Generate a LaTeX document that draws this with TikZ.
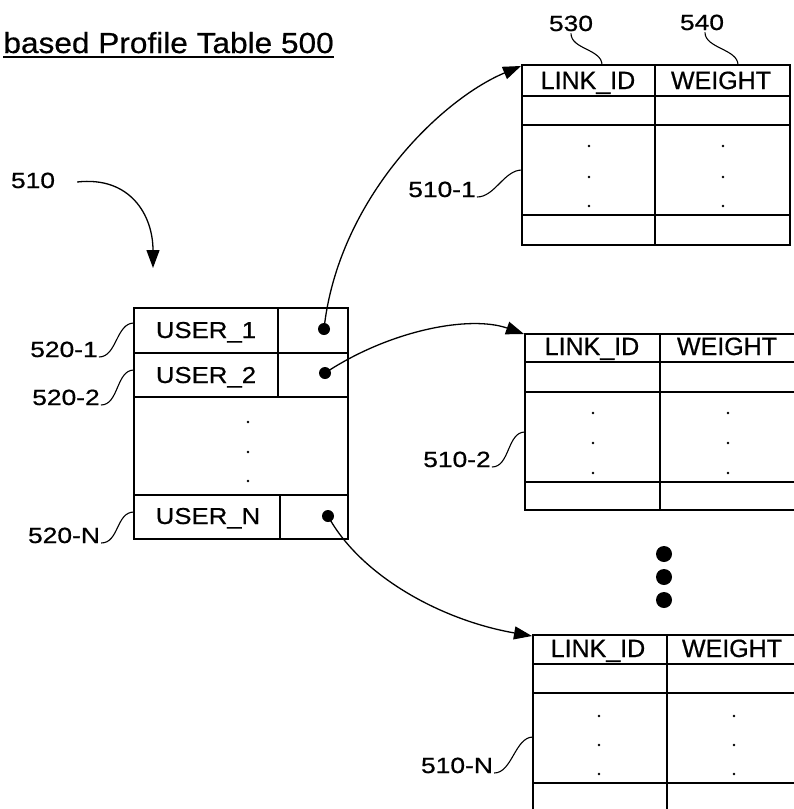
\documentclass[tikz,border=0pt]{standalone}
\usepackage{fontspec}
\setmainfont{Liberation Sans}[FakeBold=0.6]
\newfontfamily\hdrfam{Liberation Sans}[FakeBold=0.6]
\newfontfamily\titlefam{Liberation Sans}[FakeStretch=1.09,FakeBold=0.6]
\newfontfamily\userfam{Liberation Sans}[FakeStretch=1.12,FakeBold=0.6]
\newfontfamily\labfam{Liberation Sans}[FakeStretch=1.2,FakeBold=0.6]
\usetikzlibrary{arrows.meta}
\begin{document}
\begin{tikzpicture}[x=1pt,y=-1pt,
  tline/.style={line width=1.4pt},
  conn/.style={line width=1.3pt,-{Triangle[length=18pt,width=13pt]}},
  leader/.style={line width=1.1pt},
  hdr/.style={font=\hdrfam\fontsize{25}{28}\selectfont,anchor=base,inner sep=0pt},
  usr/.style={font=\userfam\fontsize{23}{26}\selectfont,anchor=base,inner sep=0pt},
  lab/.style={font=\labfam\fontsize{22}{25}\selectfont,anchor=base,inner sep=0pt},
  ptr/.style={circle,fill=black,inner sep=0pt,minimum size=12pt},
  bigdot/.style={circle,fill=black,inner sep=0pt,minimum size=16pt},
  smalldot/.style={circle,fill=black,inner sep=0pt,minimum size=2.8pt}]
\useasboundingbox (0,0) rectangle (794,809);
\clip (0,0) rectangle (794,809);

% title
\node[font=\titlefam\fontsize{29}{32}\selectfont,anchor=base east,inner sep=0pt] (title) at (334,53) {based Profile Table 500};
\draw[line width=1.3pt] ([yshift=-4pt]title.base west) -- ([yshift=-4pt]title.base east);

% left table
\draw[tline] (134,308) rectangle (348,539);
\draw[tline] (134,353) -- (348,353);
\draw[tline] (134,397) -- (348,397);
\draw[tline] (134,495) -- (348,495);
\draw[tline] (278,308) -- (278,397);
\draw[tline] (280,495) -- (280,539);
\node[usr] (u1) at (206,338) {USER\_1};
\node[usr] (u2) at (206,383) {USER\_2};
\node[usr] (uN) at (208,524) {USER\_N};
\node[smalldot] at (248,422) {};
\node[smalldot] at (248,452) {};
\node[smalldot] at (248,481) {};
\node[ptr] (d1) at (324,329) {};
\node[ptr] (d2) at (325,373) {};
\node[ptr] (dN) at (328,516) {};

% table 510-1
\draw[tline] (522,65) rectangle (790,245);
\draw[tline] (522,96) -- (790,96);
\draw[tline] (522,125) -- (790,125);
\draw[tline] (522,215) -- (790,215);
\draw[tline] (655,65) -- (655,245);
\node[hdr] (h1a) at (588,89) {LINK\_ID};
\node[hdr] (h1b) at (721,89) {WEIGHT};
\foreach \y in {146,177,206} {\node[smalldot] at (589,\y) {}; \node[smalldot] at (723,\y) {};}
\coordinate (t1) at (521,66);

% table 510-2
\draw[tline] (800,334) -- (525,334) -- (525,510) -- (800,510);
\draw[tline] (525,362) -- (800,362);
\draw[tline] (525,392) -- (800,392);
\draw[tline] (525,482) -- (800,482);
\draw[tline] (660,334) -- (660,510);
\node[hdr] (h2a) at (592,355) {LINK\_ID};
\node[hdr] (h2b) at (727,355) {WEIGHT};
\foreach \y in {413,443,473} {\node[smalldot] at (593,\y) {}; \node[smalldot] at (728,\y) {};}
\coordinate (t2) at (524,334);

% ellipsis
\node[bigdot] (e1) at (664,554) {};
\node[bigdot] (e2) at (664,577) {};
\node[bigdot] (e3) at (664,600) {};

% table 510-N
\draw[tline] (800,635) -- (533,635) -- (533,815);
\draw[tline] (533,664) -- (800,664);
\draw[tline] (533,693) -- (800,693);
\draw[tline] (533,783) -- (800,783);
\draw[tline] (667,635) -- (667,815);
\node[hdr] (hNa) at (598,657) {LINK\_ID};
\node[hdr] (hNb) at (732,657) {WEIGHT};
\foreach \y in {716,745,774} {\node[smalldot] at (599,\y) {}; \node[smalldot] at (734,\y) {};}
\coordinate (tN) at (532,636);

% connectors
\draw[conn] (d1.center) .. controls (338,200) and (440,100) .. (t1);
\draw[conn] (d2.center) .. controls (390,330) and (470,315) .. (t2);
\draw[conn] (dN.center) .. controls (360,575) and (440,620) .. (tN);

% 510 arrow
\node[lab] (l510) at (33,188) {510};
\coordinate (a510) at (153,268);
\draw[conn] ([xshift=22pt,yshift=6pt]l510.base east) .. controls (130,176) and (153,215) .. (a510);

% labels and leaders
\node[lab] (l530) at (571,31) {530};
\node[lab] (l540) at (702,30) {540};
\coordinate (c530) at (602,65);
\coordinate (c540) at (738,65);
\draw[leader] ([yshift=-2pt]l530.south) .. controls +(0,16) and +(0,-16) .. (c530);
\draw[leader] ([yshift=-2pt,xshift=3pt]l540.south) .. controls +(0,16) and +(0,-16) .. (c540);

\node[lab] (l5101) at (442,197) {510-1};
\coordinate (c5101) at (522,170);
\draw[leader] ([xshift=1pt]l5101.base east) .. controls +(18,0) and +(-18,0) .. (c5101);

\node[lab] (l5102) at (457,467) {510-2};
\coordinate (c5102) at (525,432);
\draw[leader] ([xshift=1pt]l5102.base east) .. controls +(18,0) and +(-18,0) .. (c5102);

\node[lab] (l510N) at (457,773) {510-N};
\coordinate (c510N) at (533,737);
\draw[leader] ([xshift=1pt]l510N.base east) .. controls +(18,0) and +(-18,0) .. (c510N);

\node[lab] (l5201) at (64,357) {520-1};
\coordinate (c5201) at (134,323);
\draw[leader] ([xshift=1pt]l5201.base east) .. controls +(18,0) and +(-18,0) .. (c5201);

\node[lab] (l5202) at (66,405) {520-2};
\coordinate (c5202) at (134,370);
\draw[leader] ([xshift=1pt]l5202.base east) .. controls +(18,0) and +(-18,0) .. (c5202);

\node[lab] (l520N) at (64,543) {520-N};
\coordinate (c520N) at (134,512);
\draw[leader] ([xshift=1pt]l520N.base east) .. controls +(18,0) and +(-18,0) .. (c520N);
\end{tikzpicture}
\end{document}
